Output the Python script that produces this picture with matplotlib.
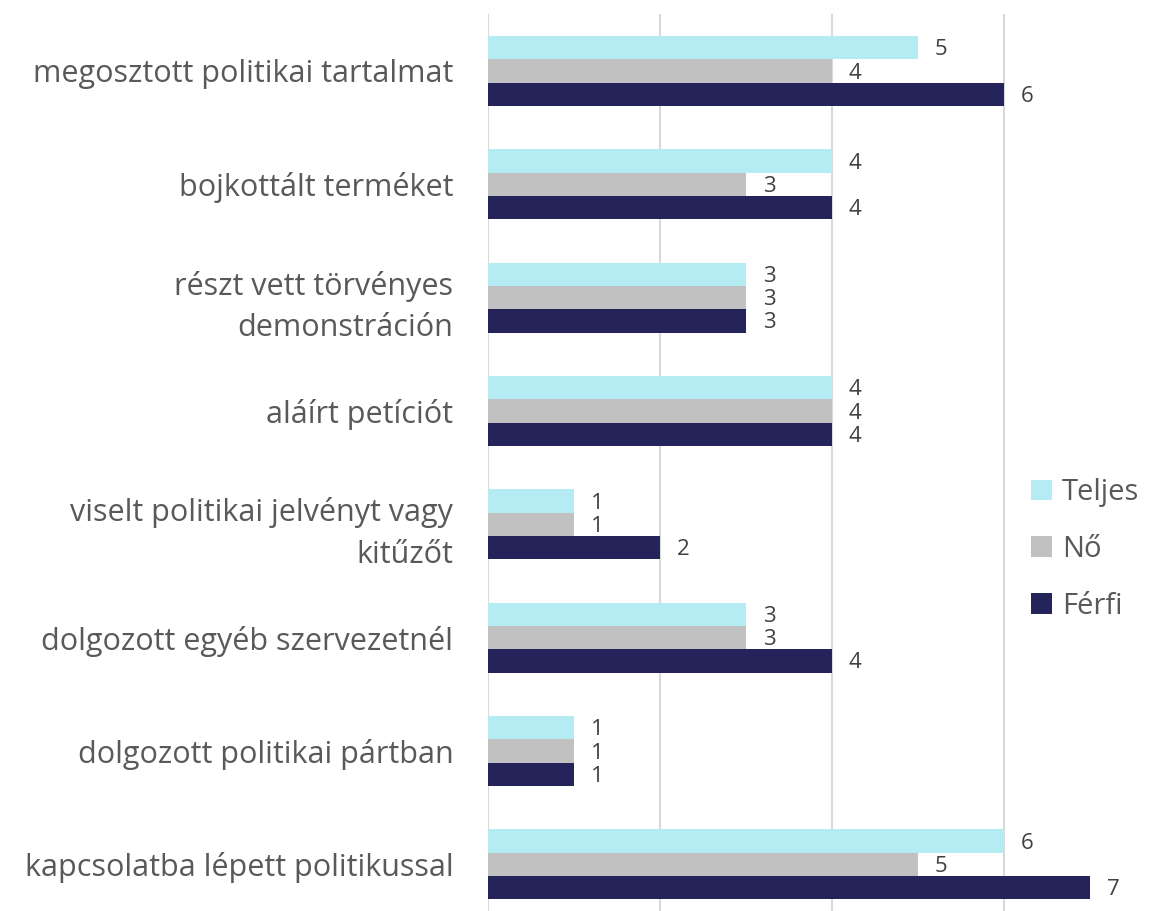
import matplotlib.pyplot as plt
import numpy as np
from matplotlib.patches import Patch

plt.rcParams['font.family'] = ['Open Sans', 'DejaVu Sans']

# - - - - - - - - - - - - - - - - - - - - - - - - - - - - - - - - - - - - - - - - - - #
categories = [
    "megosztott politikai tartalmat",
    "bojkottált terméket",
    "részt vett törvényes\ndemonstráción",
    "aláírt petíciót",
    "viselt politikai jelvényt vagy\nkitűzőt",
    "dolgozott egyéb szervezetnél",
    "dolgozott politikai pártban",
    "kapcsolatba lépett politikussal",
]
series_names = ["Teljes", "Nő", "Férfi"]
teljes = [5, 4, 3, 4, 1, 3, 1, 6]
no = [4, 3, 3, 4, 1, 3, 1, 5]
ferfi = [6, 4, 3, 4, 2, 4, 1, 7]
colors = ["#b5ecf4", "#c1c1c1", "#25245a"]
# - - - - - - - - - - - - - - - - - - - - - - - - - - - - - - - - - - - - - - - - - - #

fig = plt.figure(figsize=(11.7, 9.11), dpi=100)
ax = fig.add_axes([0.4171, -0.011, 0.588, 0.9953])

n = len(categories)
y = np.arange(n)
bh = 0.205
series = [teljes, no, ferfi]
for k, (vals, col) in enumerate(zip(series, colors)):
    pos = y + (k - 1) * bh
    ax.barh(pos, vals, height=bh, color=col, zorder=3)
    for p, v in zip(pos, vals):
        ax.annotate(str(v), (v, p), xytext=(12, -1.5), textcoords='offset points',
                    ha='left', va='center', fontsize=16, color='#404040')

ax.set_xlim(0, 8)
ax.set_ylim(n - 0.5, -0.5)
ax.set_xticks([0, 2, 4, 6, 8])
ax.xaxis.grid(True, color='#d9d9d9', linewidth=1.5, zorder=0)
ax.tick_params(axis='x', which='both', bottom=False, labelbottom=False)
ax.tick_params(axis='y', length=0, pad=25)
ax.set_yticks(y)
ax.set_yticklabels(categories, fontsize=22, color='#595959', linespacing=1.5)
for s in ax.spines.values():
    s.set_visible(False)

handles = [Patch(facecolor=c, edgecolor='none') for c in colors]
fig.legend(handles, series_names, loc='center left', bbox_to_anchor=(0.859, 0.397),
           frameon=False, fontsize=21, labelcolor='#595959', handlelength=0.7,
           handleheight=0.7, handletextpad=0.35, labelspacing=0.95)

fig.savefig("out.png", dpi=100)
